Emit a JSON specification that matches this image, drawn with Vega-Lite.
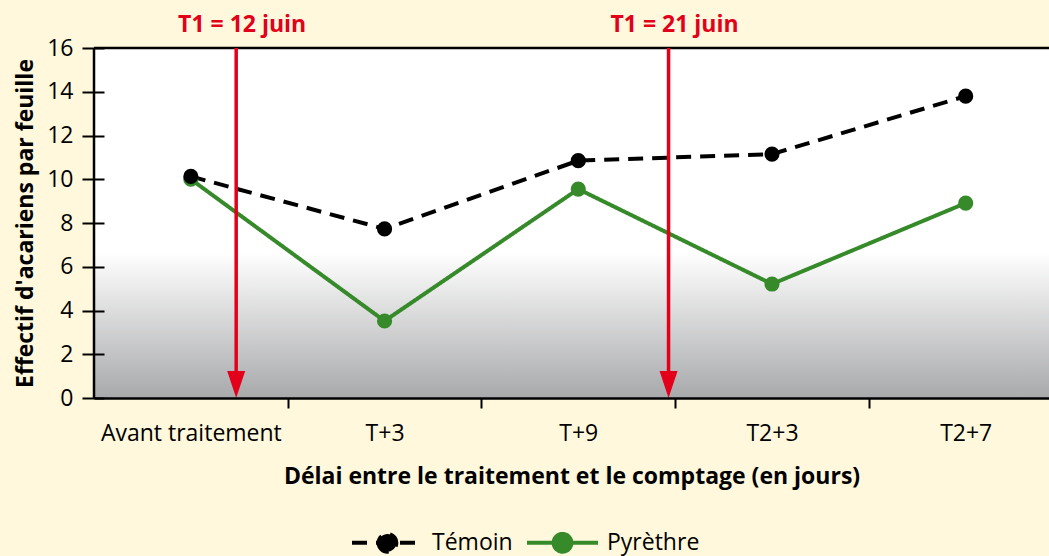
{
  "$schema": "https://vega.github.io/schema/vega-lite/v6.json",
  "width": 955,
  "height": 350,
  "autosize": {"type": "none"},
  "padding": {"left": 94, "top": 48, "right": 0, "bottom": 158},
  "background": "#fff8dc",
  "config": {"view": {"stroke": null}, "font": "Open Sans"},
  "datasets": {
    "counts": [
      {"rang": 0, "delai": "Avant traitement", "serie": "Pyrèthre", "v": 10.0},
      {"rang": 1, "delai": "T+3", "serie": "Pyrèthre", "v": 3.52},
      {"rang": 2, "delai": "T+9", "serie": "Pyrèthre", "v": 9.55},
      {"rang": 3, "delai": "T2+3", "serie": "Pyrèthre", "v": 5.21},
      {"rang": 4, "delai": "T2+7", "serie": "Pyrèthre", "v": 8.91},
      {"rang": 0, "delai": "Avant traitement", "serie": "Témoin", "v": 10.13},
      {"rang": 1, "delai": "T+3", "serie": "Témoin", "v": 7.73},
      {"rang": 2, "delai": "T+9", "serie": "Témoin", "v": 10.85},
      {"rang": 3, "delai": "T2+3", "serie": "Témoin", "v": 11.15},
      {"rang": 4, "delai": "T2+7", "serie": "Témoin", "v": 13.8}
    ],
    "traitements": [
      {"date": "T1 = 12 juin", "rang": 0.234},
      {"date": "T1 = 21 juin", "rang": 2.466}
    ],
    "cadre": [{"x0": -0.5, "x1": 4.43, "y0": 0, "y1": 16}]
  },
  "layer": [
    {
      "data": {"name": "cadre"},
      "mark": {
        "type": "rect",
        "color": {
          "gradient": "linear",
          "x1": 0, "y1": 0, "x2": 0, "y2": 1,
          "stops": [
            {"offset": 0, "color": "#ffffff"},
            {"offset": 0.585, "color": "#ffffff"},
            {"offset": 1, "color": "#a8a9ab"}
          ]
        }
      },
      "encoding": {
        "x": {
          "field": "x0",
          "type": "quantitative",
          "scale": {"domain": [-0.5, 4.43], "nice": false, "zero": false},
          "axis": {
            "zindex": 1,
            "values": [0, 0.5, 1, 1.5, 2, 2.5, 3, 3.5, 4],
            "labelExpr": "datum.value == 0 ? 'Avant traitement' : datum.value == 1 ? 'T+3' : datum.value == 2 ? 'T+9' : datum.value == 3 ? 'T2+3' : datum.value == 4 ? 'T2+7' : ''",
            "tickOpacity": {"condition": {"test": "datum.value % 1 == 0", "value": 0}, "value": 1},
            "tickSize": 10,
            "tickWidth": 2,
            "tickColor": "black",
            "domainColor": "black",
            "domainWidth": 2.5,
            "labelFontSize": 23,
            "labelColor": "black",
            "labelPadding": 14,
            "labelLimit": 400,
            "labelOverlap": false,
            "labelBound": false,
            "labelFlush": false,
            "grid": false,
            "title": "Délai entre le traitement et le comptage (en jours)",
            "titleFontSize": 23,
            "titleFontWeight": "bold",
            "titleColor": "black",
            "titlePadding": 20,
            "titleLimit": 1000
          }
        },
        "x2": {"field": "x1"},
        "y": {
          "field": "y0",
          "type": "quantitative",
          "scale": {"domain": [0, 16], "nice": false},
          "axis": {
            "zindex": 1,
            "values": [0, 2, 4, 6, 8, 10, 12, 14, 16],
            "offset": -10,
            "tickSize": 22,
            "tickWidth": 2,
            "tickColor": "black",
            "domain": false,
            "labelFontSize": 23,
            "labelColor": "black",
            "labelPadding": 9,
            "grid": false,
            "title": "Effectif d'acariens par feuille",
            "titleFontSize": 23,
            "titleFontWeight": "bold",
            "titleColor": "black",
            "titlePadding": 9,
            "titleLimit": 1000
          }
        },
        "y2": {"field": "y1"}
      }
    },
    {
      "data": {"name": "cadre"},
      "mark": {"type": "rule", "color": "black", "strokeWidth": 2.5},
      "encoding": {
        "x": {"field": "x0", "type": "quantitative"},
        "y": {"field": "y0", "type": "quantitative"},
        "y2": {"field": "y1"}
      }
    },
    {
      "data": {"name": "cadre"},
      "mark": {"type": "rule", "color": "black", "strokeWidth": 2.5},
      "encoding": {
        "x": {"field": "x0", "type": "quantitative"},
        "x2": {"field": "x1"},
        "y": {"field": "y1", "type": "quantitative"}
      }
    },
    {
      "data": {"name": "counts"},
      "mark": {"type": "line", "strokeWidth": 4},
      "encoding": {
        "x": {"field": "rang", "type": "quantitative"},
        "y": {"field": "v", "type": "quantitative"},
        "color": {
          "field": "serie",
          "type": "nominal",
          "scale": {"domain": ["Témoin", "Pyrèthre"], "range": ["#000000", "#368a2a"]},
          "legend": {
            "orient": "none",
            "legendX": 256,
            "legendY": 457,
            "direction": "horizontal",
            "title": null,
            "symbolType": "M-1,0L1,0M-0.25,0A0.25,0.25 0 1,0 0.25,0A0.25,0.25 0 1,0 -0.25,0Z",
            "symbolSize": 5041,
            "symbolStrokeWidth": 4,
            "labelFontSize": 23,
            "labelColor": "black",
            "labelOffset": 7,
            "columnPadding": 6,
            "encode": {"symbols": {"update": {"fill": {"signal": "scale('color', datum.value)"}}}}
          }
        },
        "strokeDash": {
          "field": "serie",
          "type": "nominal",
          "scale": {"domain": ["Témoin", "Pyrèthre"], "range": [[15, 9], [1, 0]]}
        }
      }
    },
    {
      "data": {"name": "counts"},
      "mark": {"type": "circle", "size": 230, "opacity": 1},
      "encoding": {
        "x": {"field": "rang", "type": "quantitative"},
        "y": {"field": "v", "type": "quantitative"},
        "color": {"field": "serie", "type": "nominal", "legend": null}
      }
    },
    {
      "data": {"name": "traitements"},
      "mark": {"type": "rule", "color": "#e2001a", "strokeWidth": 3.5},
      "encoding": {
        "x": {"field": "rang", "type": "quantitative"},
        "y": {"datum": 16, "type": "quantitative"},
        "y2": {"datum": 1.0}
      }
    },
    {
      "data": {"name": "traitements"},
      "mark": {"type": "point", "shape": "M-0.667,-1L0.667,-1L0,1Z", "size": 729, "filled": true, "color": "#e2001a", "opacity": 1},
      "encoding": {
        "x": {"field": "rang", "type": "quantitative"},
        "y": {"datum": 0.617, "type": "quantitative"}
      }
    },
    {
      "data": {"name": "traitements"},
      "mark": {"type": "text", "color": "#e2001a", "fontSize": 23, "fontWeight": "bold", "baseline": "alphabetic", "align": "center", "dx": 6},
      "encoding": {
        "x": {"field": "rang", "type": "quantitative"},
        "y": {"datum": 16.73, "type": "quantitative"},
        "text": {"field": "date"}
      }
    }
  ]
}
